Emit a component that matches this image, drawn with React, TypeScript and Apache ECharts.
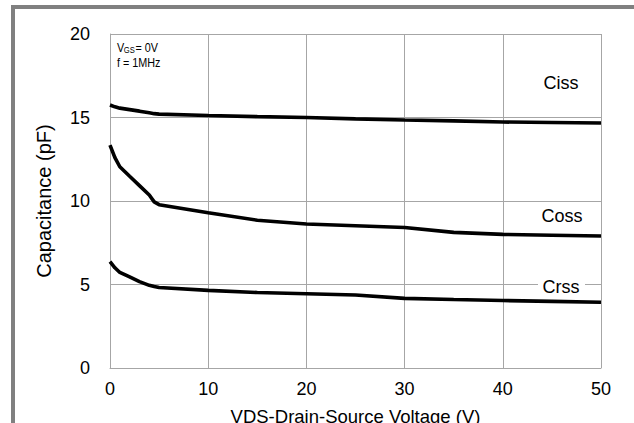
import React, { useEffect, useRef } from "react";
import * as echarts from "echarts";

const voltage = [0, 0.5, 1, 2, 3, 4, 4.5, 5, 10, 15, 20, 25, 30, 35, 40, 45, 50];
const ciss = [15.75, 15.64, 15.56, 15.47, 15.38, 15.28, 15.23, 15.2, 15.12, 15.05, 15.0, 14.92, 14.85, 14.8, 14.73, 14.7, 14.67];
const coss = [13.35, 12.6, 12.05, 11.48, 10.92, 10.36, 9.95, 9.78, 9.3, 8.85, 8.62, 8.52, 8.41, 8.12, 8.0, 7.95, 7.9];
const crss = [6.37, 6.0, 5.72, 5.45, 5.17, 4.95, 4.88, 4.82, 4.65, 4.52, 4.45, 4.37, 4.17, 4.1, 4.04, 3.99, 3.94];
const seriesNames = ["Ciss", "Coss", "Crss"];
const xTicks = { min: 0, max: 50, interval: 10 };
const yTicks = { min: 0, max: 20, interval: 5 };

const pairs = (ys: number[]) => voltage.map((v, i) => [v, ys[i]]);

export default function App() {
  const ref = useRef<HTMLDivElement>(null);
  useEffect(() => {
    if (!ref.current) return;
    const chart = echarts.init(ref.current, null, { renderer: "svg" });
    const gridColor = "#a6a6a6";
    const lineStyle = { color: "#000", width: 3.6 };
    const font = "Arial, 'Liberation Sans', sans-serif";
    chart.setOption({
      animation: false,
      backgroundColor: "#fff",
      textStyle: { fontFamily: font },
      grid: { left: 110, right: 33, top: 34, bottom: 55, outerBoundsMode: "none", containLabel: false },
      xAxis: {
        type: "value",
        ...xTicks,
        name: "VDS-Drain-Source Voltage (V)",
        nameLocation: "middle",
        nameGap: 39,
        nameTextStyle: { fontSize: 18.5, color: "#000", fontFamily: font },
        axisLine: { show: true, lineStyle: { color: gridColor, width: 1 } },
        axisTick: { show: false },
        axisLabel: { fontSize: 18, color: "#000", margin: 12, fontFamily: font },
        splitLine: { show: true, lineStyle: { color: gridColor, width: 1 } },
      },
      yAxis: {
        type: "value",
        ...yTicks,
        name: "Capacitance (pF)",
        nameLocation: "middle",
        nameGap: 56,
        nameTextStyle: { fontSize: 20, color: "#000", fontFamily: font },
        axisLine: { show: true, lineStyle: { color: gridColor, width: 1 } },
        axisTick: { show: false },
        axisLabel: { fontSize: 18, color: "#000", margin: 20, fontFamily: font },
        splitLine: { show: true, lineStyle: { color: gridColor, width: 1 } },
      },
      series: [ciss, coss, crss].map((d, i) => ({
        name: seriesNames[i],
        type: "line",
        data: pairs(d),
        showSymbol: false,
        symbol: "none",
        smooth: false,
        lineStyle,
        z: 3,
      })),
      graphic: [
        { type: "line", shape: { x1: 11, y1: 7, x2: 634, y2: 7 }, style: { stroke: "#808080", lineWidth: 4 }, z: 20 },
        { type: "line", shape: { x1: 13, y1: 5, x2: 13, y2: 440 }, style: { stroke: "#808080", lineWidth: 4 }, z: 20 },
        {
          type: "group",
          x: 117,
          y: 0,
          scaleX: 0.8,
          z: 20,
          children: [
            { type: "text", x: 0, y: 47.2, style: { text: "V", fontSize: 13.5, fill: "#000", fontFamily: font, verticalAlign: "middle", align: "left" } },
            { type: "text", x: 8.5, y: 49.5, style: { text: "GS", fontSize: 9.5, fill: "#000", fontFamily: font, verticalAlign: "middle", align: "left" } },
            { type: "text", x: 23, y: 47.2, style: { text: "= 0V", fontSize: 13.5, fill: "#000", fontFamily: font, verticalAlign: "middle", align: "left" } },
            { type: "text", x: 0, y: 62.8, style: { text: "f = 1MHz", fontSize: 13.5, fill: "#000", fontFamily: font, verticalAlign: "middle", align: "left" } },
          ],
        },
        { type: "text", x: 561, y: 83, z: 20, style: { text: "Ciss", fontSize: 18, fill: "#000", fontFamily: font, align: "center", verticalAlign: "middle" } },
        { type: "text", x: 562, y: 216, z: 20, style: { text: "Coss", fontSize: 18, fill: "#000", fontFamily: font, align: "center", verticalAlign: "middle" } },
        { type: "rect", shape: { x: 538, y: 279, width: 47, height: 16 }, style: { fill: "#fff" }, z: 19 },
        { type: "text", x: 561, y: 287, z: 20, style: { text: "Crss", fontSize: 18, fill: "#000", fontFamily: font, align: "center", verticalAlign: "middle" } },
      ],
    });
    return () => chart.dispose();
  }, []);
  return (
    <div
      ref={ref}
      style={{ position: "fixed", left: 0, top: 0, width: 634, height: 423, background: "#fff" }}
    />
  );
}
